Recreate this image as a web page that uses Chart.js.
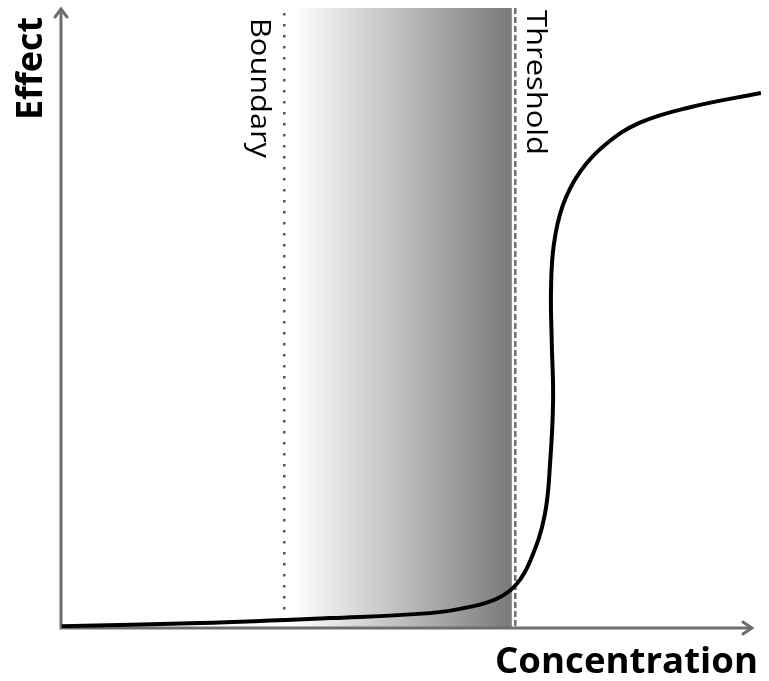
<!DOCTYPE html>
<html>
<head>
<meta charset="utf-8">
<script src="https://cdn.jsdelivr.net/npm/chart.js@4/dist/chart.umd.min.js"></script>
<style>
  html, body { margin: 0; padding: 0; background: #fff; }
  #wrap { width: 769px; height: 681px; position: relative; }
</style>
</head>
<body>
<div id="wrap"><canvas id="myChart"></canvas></div>
<script>
// dose-response curve (x: 0-100 concentration, y: 0-100 effect)
const concentration = [0.1, 19.9, 38.4, 52.7, 58.4, 62.4, 65.1, 67.1, 69.1, 69.9, 70.3, 70.1, 70.0, 70.4, 71.7, 74.1, 77.7, 82.7, 89.9, 100];
const effect = [0.3, 0.8, 1.6, 2.4, 3.4, 4.8, 7.1, 11.0, 18.2, 27.1, 36.8, 46.5, 54.5, 61.8, 68.2, 73.5, 77.9, 81.5, 84.0, 86.3];

// markers
const boundaryX = 31.9;
const thresholdX = 64.9;
const shadeFrom = 33;
const shadeTo = 64.4;

const xTitle = 'Concentration';
const yTitle = 'Effect';
const boundaryLabel = 'Boundary';
const thresholdLabel = 'Threshold';

const curvePoints = concentration.map((c, i) => ({ x: c, y: effect[i] }));

// draw text stretched to a given width
function fitText(ctx, text, x, y, angle, font, width) {
  ctx.save();
  ctx.font = font;
  const w = ctx.measureText(text).width;
  ctx.translate(x, y);
  ctx.rotate(angle);
  ctx.scale(width / w, 1);
  ctx.textAlign = 'left';
  ctx.textBaseline = 'alphabetic';
  ctx.fillStyle = '#000';
  ctx.fillText(text, 0, 0);
  ctx.restore();
}

const backdrop = {
  id: 'backdrop',
  beforeDatasetsDraw(chart) {
    const ctx = chart.ctx;
    const xs = chart.scales.x;
    const area = chart.chartArea;
    const top = area.top;
    const bottom = area.bottom;

    // shaded band
    const s0 = xs.getPixelForValue(shadeFrom);
    const s1 = xs.getPixelForValue(shadeTo);
    const grad = ctx.createLinearGradient(s0, 0, s1, 0);
    grad.addColorStop(0, '#ffffff');
    grad.addColorStop(1, '#7a7a7a');
    ctx.save();
    ctx.fillStyle = grad;
    ctx.fillRect(s0, top, s1 - s0, bottom - top);

    // boundary (dotted)
    const bx = xs.getPixelForValue(boundaryX);
    ctx.strokeStyle = '#555';
    ctx.lineWidth = 2.5;
    ctx.setLineDash([2.5, 8.5]);
    ctx.beginPath();
    ctx.moveTo(bx, top + 5);
    ctx.lineTo(bx, bottom - 6);
    ctx.stroke();

    // threshold (dashed)
    const tx = xs.getPixelForValue(thresholdX);
    ctx.setLineDash([]);
    ctx.strokeStyle = '#fff';
    ctx.lineWidth = 5;
    ctx.beginPath();
    ctx.moveTo(tx, top);
    ctx.lineTo(tx, bottom);
    ctx.stroke();
    ctx.strokeStyle = '#707070';
    ctx.lineWidth = 2.5;
    ctx.setLineDash([6, 3]);
    ctx.beginPath();
    ctx.moveTo(tx, top);
    ctx.lineTo(tx, bottom);
    ctx.stroke();
    ctx.restore();

    // marker labels
    fitText(ctx, boundaryLabel, bx - 33, top + 10, Math.PI / 2, '28px "Open Sans"', 140);
    fitText(ctx, thresholdLabel, tx + 12, top + 2, Math.PI / 2, '28px "Open Sans"', 145);

    // axes with arrows
    const left = area.left;
    const xEnd = xs.getPixelForValue(98.7);
    ctx.save();
    ctx.strokeStyle = '#6e6e6e';
    ctx.lineWidth = 3;
    ctx.lineCap = 'butt';
    ctx.beginPath();
    ctx.moveTo(left, bottom);
    ctx.lineTo(left, top + 1);
    ctx.moveTo(left - 1.5, bottom);
    ctx.lineTo(xEnd, bottom);
    ctx.stroke();
    ctx.lineCap = 'round';
    ctx.beginPath();
    ctx.moveTo(left - 6, top + 9);
    ctx.lineTo(left, top + 1);
    ctx.lineTo(left + 6, top + 9);
    ctx.moveTo(xEnd - 9, bottom - 6);
    ctx.lineTo(xEnd, bottom);
    ctx.lineTo(xEnd - 9, bottom + 6);
    ctx.stroke();
    ctx.restore();

    // axis titles
    fitText(ctx, yTitle, 42, 120, -Math.PI / 2, 'bold 35px "Open Sans"', 103);
    fitText(ctx, xTitle, 495, 673, 0, 'bold 35px "Open Sans"', 263);
  }
};

const ctx = document.getElementById('myChart').getContext('2d');
new Chart(ctx, {
  type: 'scatter',
  data: {
    datasets: [{
      data: curvePoints,
      showLine: true,
      borderColor: '#000',
      borderWidth: 4,
      pointRadius: 0,
      tension: 0.4,
      fill: false
    }]
  },
  options: {
    responsive: true,
    maintainAspectRatio: false,
    animation: false,
    layout: { padding: { left: 61, right: 8, top: 8, bottom: 53 } },
    plugins: { legend: { display: false }, tooltip: { enabled: false } },
    scales: {
      x: { type: 'linear', min: 0, max: 100, display: false },
      y: { type: 'linear', min: 0, max: 100, display: false }
    }
  },
  plugins: [backdrop]
});
</script>
</body>
</html>
